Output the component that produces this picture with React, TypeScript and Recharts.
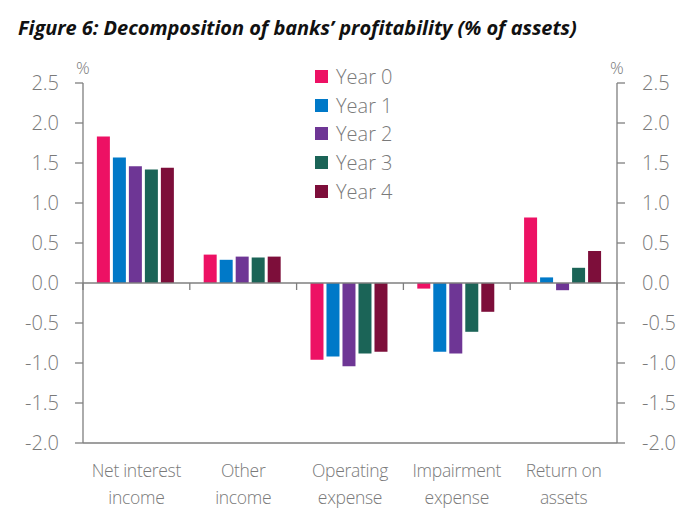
import React from "react"
import { BarChart, Bar, XAxis, YAxis, ReferenceLine, Legend } from "recharts"

const categories = ["Net interest income", "Other income", "Operating expense", "Impairment expense", "Return on assets"]
const categoryLines = [["Net interest", "income"], ["Other", "income"], ["Operating", "expense"], ["Impairment", "expense"], ["Return on", "assets"]]

const years = ["Year 0", "Year 1", "Year 2", "Year 3", "Year 4"]
const year0 = [1.83, 0.355, -0.96, -0.07, 0.82]
const year1 = [1.57, 0.29, -0.92, -0.86, 0.07]
const year2 = [1.46, 0.33, -1.04, -0.88, -0.09]
const year3 = [1.42, 0.32, -0.88, -0.61, 0.19]
const year4 = [1.44, 0.33, -0.86, -0.36, 0.4]

const yTicks = [-2.0, -1.5, -1.0, -0.5, 0.0, 0.5, 1.0, 1.5, 2.0, 2.5]

const COLORS = ["#ED1164", "#0079C8", "#6E3695", "#1B6457", "#7D0E3A"]
const AXIS = "#7f7f7f"
const TEXT = "#7a7a7a"
const FONT = "'Open Sans', sans-serif"

const series = [year0, year1, year2, year3, year4]

const data = categories.map((name, i) => {
  const row: any = { name }
  years.forEach((y, k) => {
    row[y] = series[k][i]
  })
  return row
})

const CategoryTick = ({ x, y, payload, index }: any) => {
  const lines = categoryLines[index] || [payload.value]
  return (
    <text x={x} y={y} textAnchor="middle" fill={TEXT} fontSize={17.5} fontFamily={FONT} fontWeight={300} letterSpacing={-0.3}>
      {lines.map((l, i) => (
        <tspan key={i} x={x} dy={i === 0 ? 26 : 27}>
          {l}
        </tspan>
      ))}
    </text>
  )
}

// zero line with small ticks at the category boundaries
const ZeroLine = (props: any) => {
  const { x1, x2, y1 } = props
  const step = (x2 - x1) / categories.length
  const marks = []
  for (let i = 0; i <= categories.length; i++) {
    const x = x1 + step * i
    marks.push(<line key={i} x1={x} x2={x} y1={y1} y2={y1 + 7} stroke={AXIS} strokeWidth={1.3} />)
  }
  return (
    <g>
      <line x1={x1} x2={x2} y1={y1} y2={y1} stroke={AXIS} strokeWidth={1.3} />
      {marks}
    </g>
  )
}

const LegendBox = () => (
  <div style={{ fontFamily: FONT, fontWeight: 300 }}>
    {years.map((y, i) => (
      <div key={y} style={{ display: "flex", alignItems: "center", height: 28.8 }}>
        <span style={{ width: 13, height: 13, background: COLORS[i], display: "inline-block", marginRight: 8 }} />
        <span style={{ color: TEXT, fontSize: 20 }}>{y}</span>
      </div>
    ))}
  </div>
)

const fmt = (v: number) => v.toFixed(1)

export default function App() {
  return (
    <div style={{ position: "absolute", left: 0, top: 0, width: 688, height: 520, background: "#fff" }}>
      <div
        style={{
          position: "absolute",
          left: 18,
          top: 14,
          fontFamily: FONT,
          fontWeight: 700,
          fontStyle: "italic",
          fontSize: 20,
          letterSpacing: -0.05,
          color: "#111",
          whiteSpace: "nowrap",
        }}
      >
        Figure 6: Decomposition of banks’ profitability (% of assets)
      </div>
      <div style={{ position: "absolute", left: 76, top: 56, fontFamily: FONT, fontWeight: 300, fontSize: 17, color: TEXT }}>%</div>
      <div style={{ position: "absolute", left: 610, top: 56, fontFamily: FONT, fontWeight: 300, fontSize: 17, color: TEXT }}>%</div>
      <BarChart
        width={688}
        height={520}
        data={data}
        margin={{ top: 83, right: 0, bottom: 0, left: 0 }}
        barCategoryGap="13%"
        barGap={3}
      >
        <XAxis
          dataKey="name"
          height={77}
          axisLine={{ stroke: AXIS, strokeWidth: 1.3 }}
          tickLine={false}
          tick={<CategoryTick />}
          interval={0}
        />
        <YAxis
          yAxisId="left"
          width={83}
          domain={[-2, 2.5]}
          ticks={yTicks}
          tickFormatter={fmt}
          tickSize={8}
          tickMargin={16}
          axisLine={{ stroke: AXIS, strokeWidth: 1.3 }}
          tickLine={{ stroke: AXIS, strokeWidth: 1.3 }}
          tick={{ fill: TEXT, fontSize: 20, fontFamily: FONT, fontWeight: 300 }}
          allowDataOverflow
        />
        <YAxis
          yAxisId="right"
          orientation="right"
          width={71}
          domain={[-2, 2.5]}
          ticks={yTicks}
          tickFormatter={fmt}
          tickSize={8}
          tickMargin={17}
          axisLine={{ stroke: AXIS, strokeWidth: 1.3 }}
          tickLine={{ stroke: AXIS, strokeWidth: 1.3 }}
          tick={{ fill: TEXT, fontSize: 20, fontFamily: FONT, fontWeight: 300, textAnchor: "start" }}
          allowDataOverflow
        />
        <Legend
          layout="vertical"
          verticalAlign="middle"
          align="center"
          content={<LegendBox />}
          wrapperStyle={{ position: "absolute", left: 315, top: 62, width: 120 }}
        />
        {years.map((y, i) => (
          <Bar key={y} yAxisId="left" dataKey={y} fill={COLORS[i]} isAnimationActive={false} />
        ))}
        <ReferenceLine yAxisId="left" y={0} shape={<ZeroLine />} />
      </BarChart>
    </div>
  )
}
